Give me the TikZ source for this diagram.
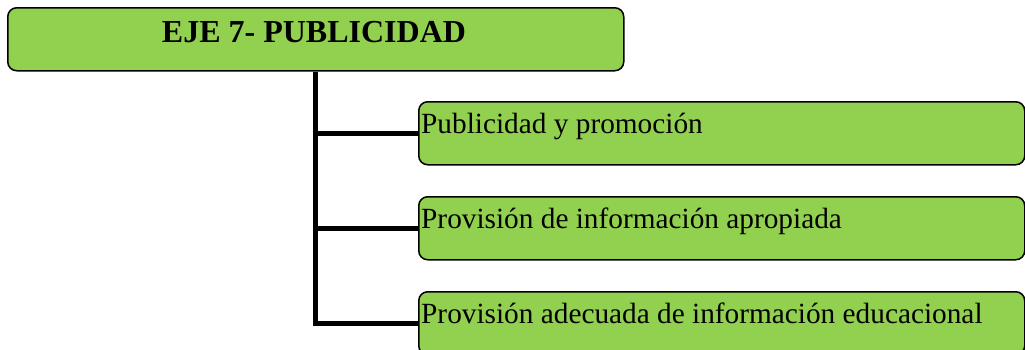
\documentclass[tikz,border=0pt]{standalone}
\usepackage{fontspec}
\setmainfont{Liberation Serif}
\definecolor{boxgreen}{HTML}{92D050}
\begin{document}
\begin{tikzpicture}[x=1pt,y=-1pt,
  greenbox/.style={draw=black, line width=1.5pt, fill=boxgreen, rounded corners=9pt, inner sep=0pt, anchor=north west},
  conn/.style={draw=black, line width=5pt},
  childtext/.style={anchor=base west, inner sep=0pt, font=\fontsize{29.3}{34}\selectfont},
  titletext/.style={inner sep=0pt, font=\fontsize{32}{38}\selectfont\bfseries}]
\useasboundingbox (0,0) rectangle (1025,349);
\clip (0,0) rectangle (1025,349);
\node[greenbox, minimum width=616pt, minimum height=63pt] (top) at (7,7) {};
\node[greenbox, minimum width=606pt, minimum height=63pt] (c1) at (418,101) {};
\node[greenbox, minimum width=606pt, minimum height=63pt] (c2) at (418,196) {};
\node[greenbox, minimum width=606pt, minimum height=63pt] (c3) at (418,291) {};
\node[titletext, anchor=base] (ttl) at (314,42) {EJE 7- PUBLICIDAD};
\node[childtext] (t1) at ([xshift=3pt]c1.west) {Publicidad y promoción};
\node[childtext] (t2) at ([xshift=3pt]c2.west) {Provisión de información apropiada};
\node[childtext] (t3) at ([xshift=3pt]c3.west) {Provisión adecuada de información educacional};
\draw[conn] (top.south) |- (c3.west);
\draw[conn] (top.south |- c1.west) -- (c1.west);
\draw[conn] (top.south |- c2.west) -- (c2.west);
\end{tikzpicture}
\end{document}
